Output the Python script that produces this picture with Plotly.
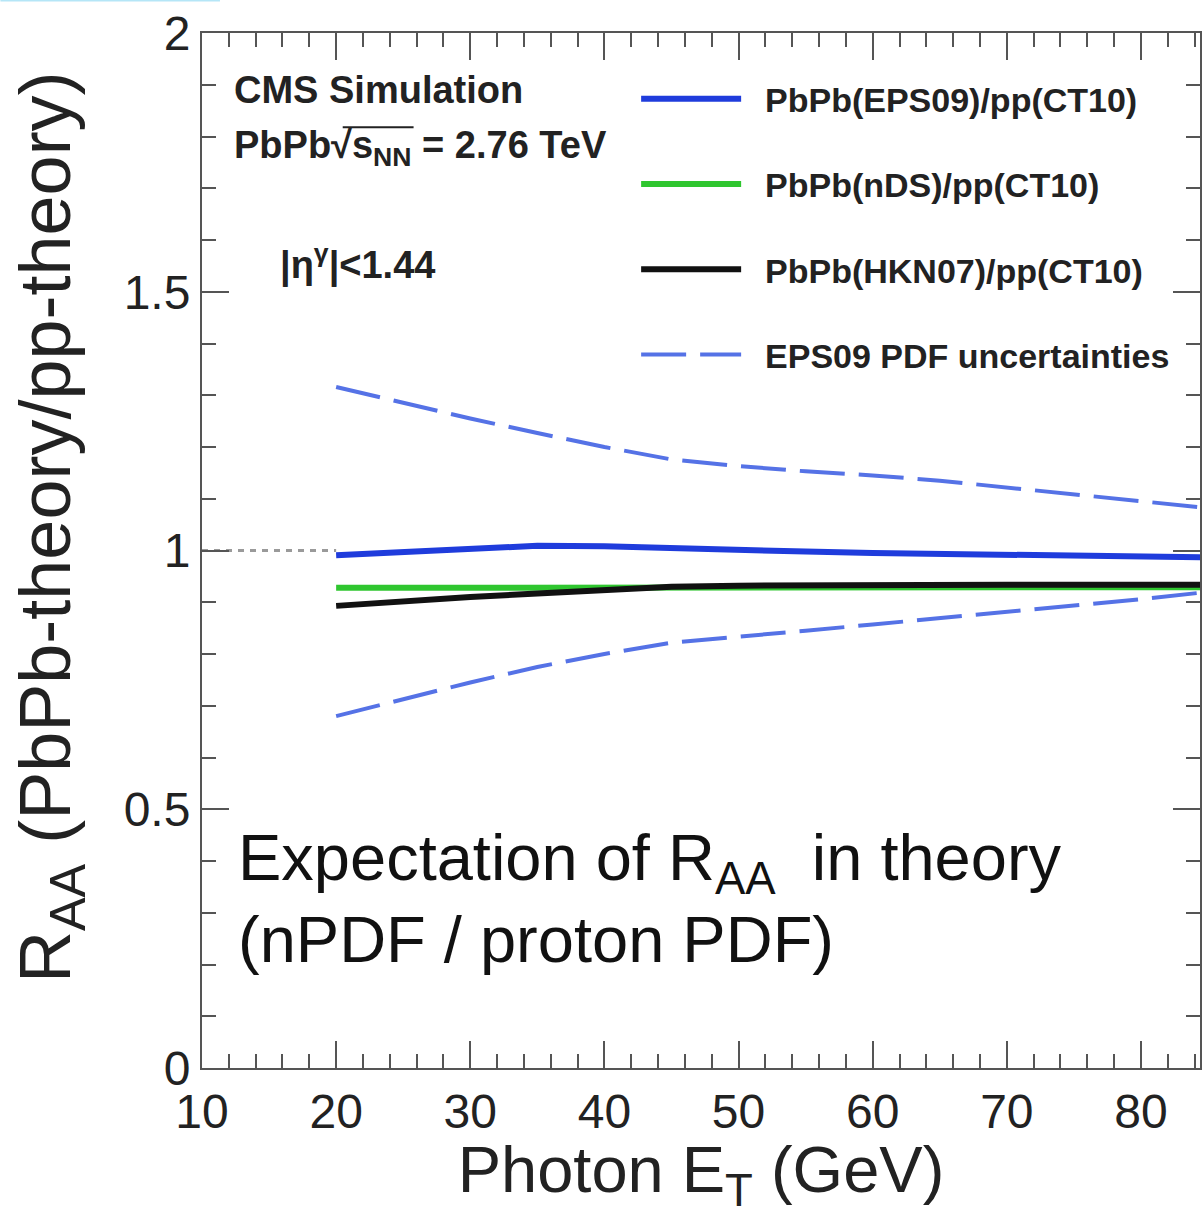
import plotly.graph_objects as go

# ---- data ----
et = [20, 25, 30, 35, 40, 45, 50, 55, 60, 65, 70, 75, 80, 85]
eps09 = [0.991, 0.997, 1.005, 1.009, 1.008, 1.004, 1.000, 0.998, 0.995, 0.993, 0.991, 0.990, 0.988, 0.987]
nds = [0.928, 0.928, 0.928, 0.928, 0.928, 0.928, 0.928, 0.928, 0.928, 0.928, 0.928, 0.928, 0.928, 0.929]
hkn07 = [0.893, 0.902, 0.910, 0.917, 0.924, 0.930, 0.932, 0.933, 0.933, 0.933, 0.934, 0.934, 0.934, 0.934]
eps09_up = [1.316, 1.285, 1.255, 1.227, 1.200, 1.176, 1.163, 1.153, 1.145, 1.135, 1.122, 1.110, 1.097, 1.082]
eps09_dn = [0.680, 0.712, 0.745, 0.775, 0.800, 0.822, 0.833, 0.845, 0.857, 0.869, 0.881, 0.893, 0.906, 0.920]

names = ["PbPb(EPS09)/pp(CT10)", "PbPb(nDS)/pp(CT10)", "PbPb(HKN07)/pp(CT10)", "EPS09 PDF uncertainties"]
x_range = [10, 84.4]
y_range = [0, 2]
ref_x = [10, 20]
ref_y = [1, 1]

FONT = "Liberation Sans, Arial, Helvetica, sans-serif"
BLUE = "#1f3cdc"
GREEN = "#2fc62f"
BLACK = "#111111"
DBLUE = "#5572e6"
PAD = "\u00a0\u00a0"

fig = go.Figure()

# reference line at unity
fig.add_trace(go.Scatter(x=ref_x, y=ref_y, mode="lines", showlegend=False, hoverinfo="skip",
                         line=dict(color="#9a9a9a", width=3, dash="6px,6px")))

fig.add_trace(go.Scatter(x=et, y=eps09, mode="lines", name=PAD + names[0], legendgroup="a",
                         line=dict(color=BLUE, width=6)))
fig.add_trace(go.Scatter(x=et, y=nds, mode="lines", name=PAD + names[1], legendgroup="b",
                         line=dict(color=GREEN, width=6)))
fig.add_trace(go.Scatter(x=et, y=hkn07, mode="lines", name=PAD + names[2], legendgroup="c",
                         line=dict(color=BLACK, width=6)))
fig.add_trace(go.Scatter(x=et, y=eps09_up, mode="lines", name=PAD + names[3], legendgroup="d",
                         line=dict(color=DBLUE, width=4, dash="45px,14px")))
fig.add_trace(go.Scatter(x=et, y=eps09_dn, mode="lines", name=PAD + names[3], legendgroup="d",
                         showlegend=False, line=dict(color=DBLUE, width=4, dash="45px,14px")))

axis_common = dict(
    showline=True, linecolor="#555", linewidth=2, mirror="allticks",
    ticks="inside", tickcolor="#555", tickwidth=2,
    showgrid=False, zeroline=False,
    tickfont=dict(family=FONT, size=48, color="#222"),
)

fig.update_xaxes(range=x_range, dtick=10, tick0=0, ticklen=27,
                 minor=dict(dtick=2, ticklen=14, ticks="inside", tickcolor="#555", tickwidth=2),
                 title=dict(text="Photon E<sub>T</sub> (GeV)", font=dict(family=FONT, size=65, color="#222"), standoff=8),
                 **axis_common)
fig.update_yaxes(range=y_range, dtick=0.5, tick0=0, ticklen=27,
                 minor=dict(dtick=0.1, ticklen=14, ticks="inside", tickcolor="#555", tickwidth=2),
                 **axis_common)

ann_font_b = dict(family=FONT, size=38, color="#222")
annotations = [
    dict(text="R<sub>AA</sub> (PbPb-theory/pp-theory)", x=-0.152, y=0.523, xanchor="center", yanchor="middle",
         textangle=-90, font=dict(family=FONT, size=72, color="#222")),
    dict(text="<b>CMS Simulation</b>", x=0.030, y=0.945, xanchor="left", yanchor="middle", font=ann_font_b),
    dict(text="<b>PbPb√s<sub>NN</sub> = 2.76 TeV</b>", x=0.030, y=0.889, xanchor="left", yanchor="middle", font=ann_font_b),
    dict(text="<b>|η<sup>γ</sup>|&lt;1.44</b>", x=0.076, y=0.778, xanchor="left", yanchor="middle", font=ann_font_b),
    dict(text="Expectation of R<sub>AA</sub>  in theory", x=0.034, y=0.199, xanchor="left", yanchor="middle",
         font=dict(family=FONT, size=65, color="#111")),
    dict(text="(nPDF / proton PDF)", x=0.034, y=0.124, xanchor="left", yanchor="middle",
         font=dict(family=FONT, size=65, color="#111")),
]
for a in annotations:
    a.update(xref="paper", yref="paper", showarrow=False)

fig.update_layout(
    width=1202, height=1216,
    margin=dict(l=202, r=0, t=33, b=148),
    paper_bgcolor="white", plot_bgcolor="white",
    annotations=annotations,
    legend=dict(x=0.435, y=0.964, xanchor="left", yanchor="top",
                bgcolor="rgba(0,0,0,0)", itemwidth=100, tracegroupgap=38,
                traceorder="grouped",
                font=dict(family=FONT, size=34, color="#222", weight="bold")),
    shapes=[
        dict(type="line", xref="paper", yref="paper", x0=-0.202, x1=0.018, y0=1.0319, y1=1.0319,
             line=dict(color="#b5e6f7", width=3)),
        dict(type="line", xref="paper", yref="paper", x0=0.141, x1=0.212, y0=0.909, y1=0.909,
             line=dict(color="#222", width=2)),
    ],
)

fig.write_html("out.html")
